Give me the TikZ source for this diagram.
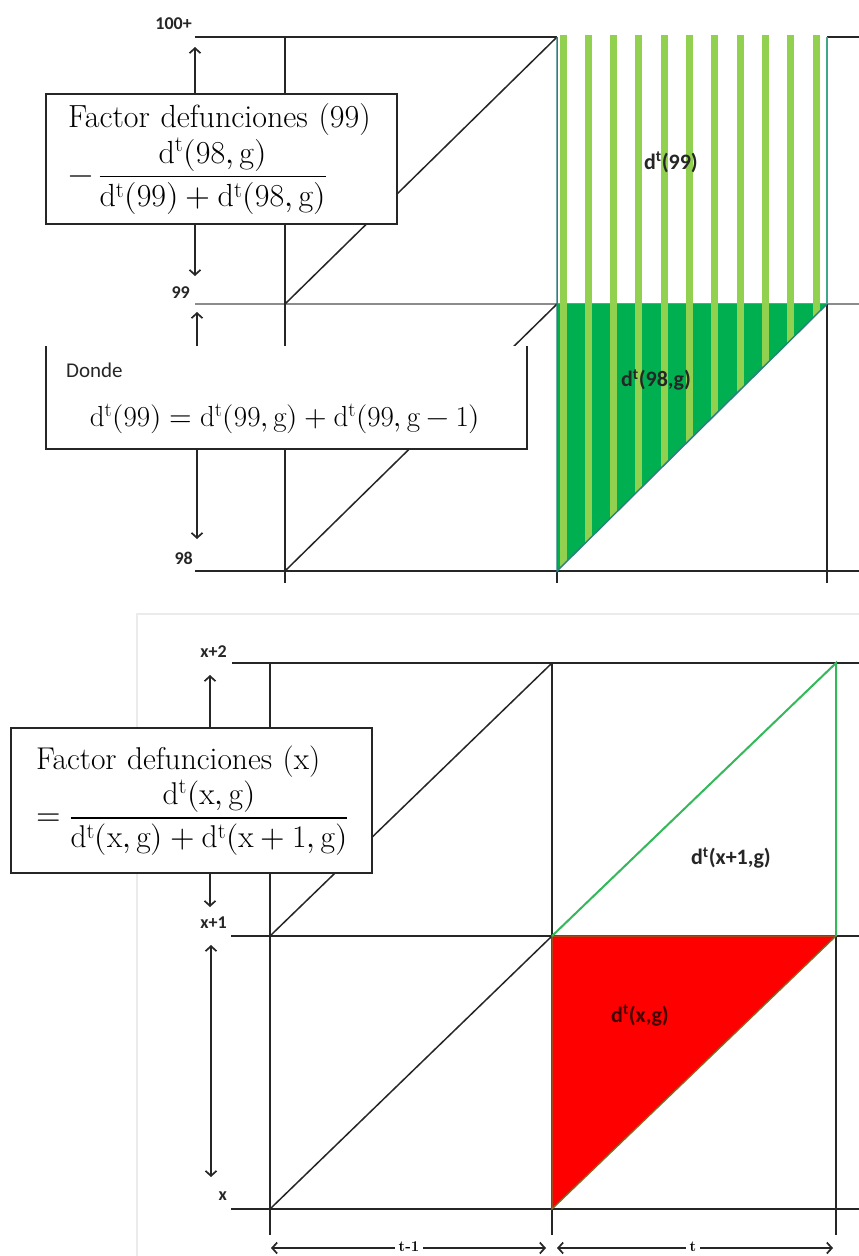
\documentclass[tikz,border=0pt]{standalone}
\usepackage{amsmath}
\usepackage{fontspec}
\usepackage{unicode-math}
\setmathfont{Latin Modern Math}
\newfontfamily\lab{Carlito}
\usetikzlibrary{arrows.meta}
\definecolor{ltgreen}{HTML}{92D050}
\definecolor{dkgreen}{HTML}{00B050}
\definecolor{tealedge}{HTML}{2F7F7F}
\definecolor{rightedge}{HTML}{3FA88A}
\definecolor{linegreen}{HTML}{33B85A}
\definecolor{rededge}{HTML}{7F6A2A}
\begin{document}
\begin{tikzpicture}[x=1pt,y=-1pt,
  gline/.style={draw=black!85, line width=2.2pt},
  diag/.style={draw=black!85, line width=1.5pt},
  faintline/.style={draw=black!45, line width=1.5pt},
  arr/.style={line width=1.7pt, draw=black!85, -{Straight Barb[length=5pt,width=11pt]}},
  darr/.style={line width=1.7pt, draw=black!85, {Straight Barb[length=5pt,width=11pt]}-{Straight Barb[length=5pt,width=11pt]}},
  lbl/.style={font=\lab\bfseries\fontsize{18}{20}\selectfont, inner sep=0pt, text=black!85},
  reg/.style={font=\lab\bfseries\fontsize{22}{24}\selectfont, inner sep=0pt, text=black!85},
  box/.style={draw=black!85, line width=2.2pt, fill=white, inner ysep=0pt, align=left}
]
\useasboundingbox (0,0) rectangle (859,1256);
\clip (0,0) rectangle (859,1256);
\fill[white] (0,0) rectangle (859,1256);
% faint screenshot separator
\draw[black!8, line width=1.5pt] (137,1256) -- (137,614) -- (859,614);

% ===== top diagram =====
\draw[gline] (195,37) -- (557,37);
\draw[gline] (827,37) -- (859,37);
\draw[faintline] (195,304) -- (859,304);
\draw[gline] (195,571) -- (859,571);
\draw[gline] (285,37) -- (285,583);
\draw[gline] (557,571) -- (557,583);
\draw[gline] (827,304) -- (827,583);
\draw[diag] (285,304) -- (557,37);
\draw[diag] (285,571) -- (557,304);

% green region
\fill[dkgreen] (557,304) -- (827,304) -- (557,571) -- cycle;
\begin{scope}
  \clip (557,35) -- (827,35) -- (827,304) -- (557,571) -- cycle;
  \foreach \i in {0,...,10}
    \fill[ltgreen] ({559.5+\i*25.3},35) rectangle ++(7,540);
\end{scope}
\draw[tealedge, line width=1.5pt] (557,37) -- (557,571) -- (827,304);
\draw[rightedge, line width=1.8pt] (827,37) -- (827,304);

\node[reg] (d99) at (671,162) {d\textsuperscript{t}(99)};
\node[reg] (d98) at (656,380) {d\textsuperscript{t}(98,g)};

% box 1
\node[box, font=\fontsize{32}{36}\selectfont, inner xsep=22pt, minimum width=351pt, minimum height=130pt, text width=307pt, anchor=north west] (f99) at (45,93)
  {Factor defunciones (99)\\[1pt]
   \mbox{$-\,\dfrac{\mathrm{d^t(98,g)}}{\mathrm{d^t(99)+d^t(98,g)}}$}};

% box 2 (open top)
\fill[white] (46,346) rectangle (527,449);
\draw[gline] (46,346) -- (46,449) -- (527,449) -- (527,346);
\node[font=\lab\fontsize{21}{24}\selectfont, anchor=west, inner sep=0pt, text=black!85] (donde) at (66,370) {Donde};
\node[font=\fontsize{29}{34}\selectfont, inner sep=0pt] (eq) at (285,419)
  {$\mathrm{d^t(99)=d^t(99,g)+d^t(99,g-1)}$};

% top arrows
\coordinate (a1) at (195,47);
\coordinate (a2) at (195,276);
\coordinate (b2top) at (197,346);
\coordinate (a3) at (197,312);
\coordinate (b2bot) at (197,449);
\coordinate (a4) at (197,539);
\draw[arr] (f99.north -| a1) -- (a1);
\draw[arr] (f99.south -| a2) -- (a2);
\draw[arr] (b2top) -- (a3);
\draw[arr] (b2bot) -- (a4);

\node[lbl, anchor=east] (l100) at (192,24) {100+};
\node[lbl, anchor=east] (l99) at (190,293) {99};
\node[lbl, anchor=east] (l98) at (193,558) {98};

% ===== bottom diagram =====
\draw[gline] (232,663) -- (859,663);
\draw[gline] (231,936) -- (859,936);
\draw[gline] (231,1209) -- (859,1209);
\draw[gline] (270,663) -- (270,1235);
\draw[gline] (552,663) -- (552,1235);
\draw[gline] (836,936) -- (836,1235);
\draw[diag] (270,936) -- (552,663);
\draw[diag] (270,1209) -- (552,936);

\filldraw[fill=red, draw=rededge, line width=1.3pt] (552,936) -- (836,936) -- (552,1209) -- cycle;
\draw[linegreen, line width=2pt] (552,936) -- (836,663) -- (836,936);

\node[reg] (dx1) at (731,858) {d\textsuperscript{t}(x+1,g)};
\node[reg, text=black!75!red] (dx) at (640,1015) {d\textsuperscript{t}(x,g)};

% box 3
\node[box, font=\fontsize{31.5}{36}\selectfont, inner xsep=25pt, minimum width=361pt, minimum height=145pt, text width=311pt, anchor=north west] (fx) at (10,727)
  {Factor defunciones (x)\\[1pt]
   \mbox{$=\dfrac{\mathrm{d^t(x,g)}}{\mathrm{d^t(x,g)+d^t(x+1,g)}}$}};

\coordinate (c1) at (210,675);
\coordinate (c2) at (210,907);
\coordinate (c3) at (211,945);
\coordinate (c4) at (211,1177);
\draw[arr] (fx.north -| c1) -- (c1);
\draw[arr] (fx.south -| c2) -- (c2);
\draw[darr] (c3) -- (c4);

\node[lbl, anchor=east] (lx2) at (227,652) {x+2};
\node[lbl, anchor=east] (lx1) at (227,923) {x+1};
\node[lbl, anchor=east] (lx) at (227,1196) {x};

% time arrows
\coordinate (t1a) at (271,1248);
\coordinate (t1b) at (546,1248);
\coordinate (t2a) at (557,1248);
\coordinate (t2b) at (833,1248);
\draw[darr] (t1a) -- (t1b);
\draw[darr] (t2a) -- (t2b);
\node[fill=white, inner xsep=4pt, inner ysep=0pt, font=\bfseries\fontsize{15}{16}\selectfont] (tm1) at (409,1247) {t-1};
\node[fill=white, inner xsep=4pt, inner ysep=0pt, font=\bfseries\fontsize{15}{16}\selectfont] (tt) at (693,1247) {t};
\end{tikzpicture}
\end{document}
